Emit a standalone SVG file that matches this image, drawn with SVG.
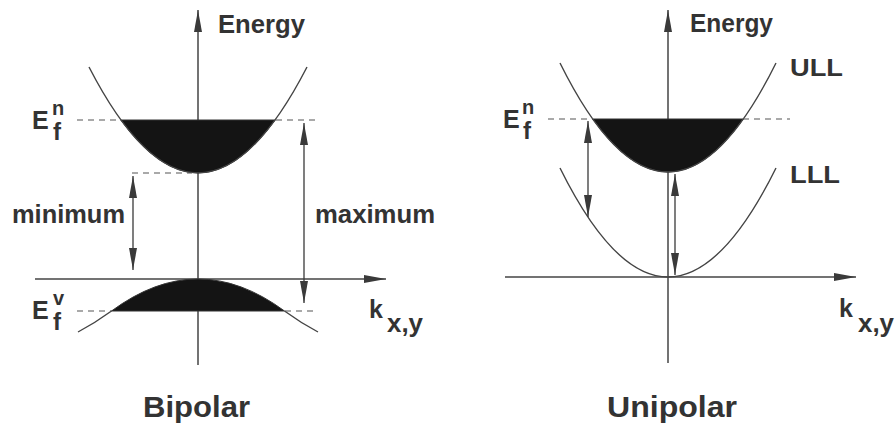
<svg xmlns="http://www.w3.org/2000/svg" width="895" height="428" viewBox="0 0 895 428">
<defs>
<marker id="ah" viewBox="0 0 22 8" refX="22" refY="4" markerWidth="22" markerHeight="8" markerUnits="userSpaceOnUse" orient="auto-start-reverse">
<path d="M0,0 L22,4 L0,8 Z" fill="#3a3a3a"/>
</marker>
</defs>
<style>
.ln{stroke:#444;stroke-width:1.4;fill:none}
.ax{stroke:#444;stroke-width:1.5;fill:none}
.ds{stroke:#555;stroke-width:1.2;stroke-dasharray:6,5;fill:none}
.fl{fill:#141414;stroke:#333;stroke-width:1}
.ar{stroke:#3a3a3a;stroke-width:1.3;fill:none;marker-start:url(#ah);marker-end:url(#ah)}
text{font-family:"Liberation Sans",Arial,sans-serif;font-weight:bold;fill:#333}
.lab{font-size:25px}
.ttl{font-size:30px}
.big{font-size:25px}
.sup{font-size:20px}
.sub{font-size:24px}
.kk{font-size:25px}
</style>
<rect width="895" height="428" fill="#fff"/>

<g id="bipolar">
  <g id="bipolar-axes">
    <line class="ax" x1="198" y1="365" x2="198" y2="10" marker-end="url(#ah)"/>
    <line class="ax" x1="35" y1="279" x2="386" y2="279" marker-end="url(#ah)"/>
  </g>
  <g id="bipolar-conduction">
    <path class="fl" d="M120.8,120 Q198,226 275.2,120 Z"/>
    <path class="ln" d="M89,67 Q198,278.7 307,67"/>
  </g>
  <g id="bipolar-valence">
    <path class="fl" d="M111.5,311 Q198,247 284.5,311 Z"/>
    <path class="ln" d="M78,332 Q95,323 111.5,311 M284.5,311 Q301,323 318,332"/>
  </g>
  <g id="bipolar-levels">
    <line class="ds" x1="77" y1="120" x2="121" y2="120"/>
    <line class="ds" x1="276" y1="120" x2="318" y2="120"/>
    <line class="ds" x1="132" y1="173" x2="192" y2="173"/>
    <line class="ds" x1="77" y1="311" x2="112" y2="311"/>
    <line class="ds" x1="285" y1="311" x2="318" y2="311"/>
  </g>
  <text x="218" y="33" class="lab" font-size="24" textLength="87" lengthAdjust="spacingAndGlyphs">Energy</text>
  <text x="32" y="129" class="big">E</text>
  <text x="52" y="115" class="sup">n</text>
  <text x="53" y="140" class="sub">f</text>
  <text x="32" y="319" class="big">E</text>
  <text x="53" y="305" class="sup">v</text>
  <text x="53" y="330" class="sub">f</text>
  <text x="12" y="223" class="lab" textLength="113" lengthAdjust="spacingAndGlyphs">minimum</text>
  <text x="315" y="223" class="lab" textLength="120" lengthAdjust="spacingAndGlyphs">maximum</text>
  <text x="369" y="318" class="kk">k</text>
  <text x="387" y="332" class="kk" textLength="36" lengthAdjust="spacingAndGlyphs">x,y</text>
  <text x="143" y="417" class="ttl" textLength="107" lengthAdjust="spacingAndGlyphs">Bipolar</text>
</g>

<g id="unipolar">
  <g id="unipolar-axes">
    <line class="ax" x1="668" y1="363" x2="668" y2="10" marker-end="url(#ah)"/>
    <line class="ax" x1="505" y1="277" x2="856" y2="277" marker-end="url(#ah)"/>
  </g>
  <g id="ull">
    <path class="fl" d="M592.7,119 Q668,225 743.3,119 Z"/>
    <path class="ln" d="M560,63 Q668,281 776,63"/>
  </g>
  <g id="lll">
    <path class="ln" d="M560,168 Q668,386 776,168"/>
  </g>
  <g id="unipolar-levels">
    <line class="ds" x1="548" y1="119" x2="593" y2="119"/>
    <line class="ds" x1="743" y1="119" x2="790" y2="119"/>
  </g>
  <text x="690" y="32" class="lab" font-size="24" textLength="83" lengthAdjust="spacingAndGlyphs">Energy</text>
  <text x="790" y="76" class="sub" font-size="22" textLength="53" lengthAdjust="spacingAndGlyphs">ULL</text>
  <text x="790" y="183" class="sub" font-size="22" textLength="50" lengthAdjust="spacingAndGlyphs">LLL</text>
  <text x="503" y="128" class="big">E</text>
  <text x="522" y="114" class="sup">n</text>
  <text x="523" y="139" class="sub">f</text>
  <text x="839" y="317" class="kk">k</text>
  <text x="858" y="332" class="kk" textLength="36" lengthAdjust="spacingAndGlyphs">x,y</text>
  <text x="607" y="417" class="ttl" textLength="130" lengthAdjust="spacingAndGlyphs">Unipolar</text>
</g>

<g id="connectors">
  <line class="ar" x1="133" y1="176" x2="133" y2="270"/>
  <line class="ar" x1="304" y1="123" x2="304" y2="303"/>
  <line class="ar" x1="588" y1="121" x2="588" y2="217"/>
  <line class="ar" x1="675" y1="174" x2="675" y2="275"/>
</g>
</svg>
